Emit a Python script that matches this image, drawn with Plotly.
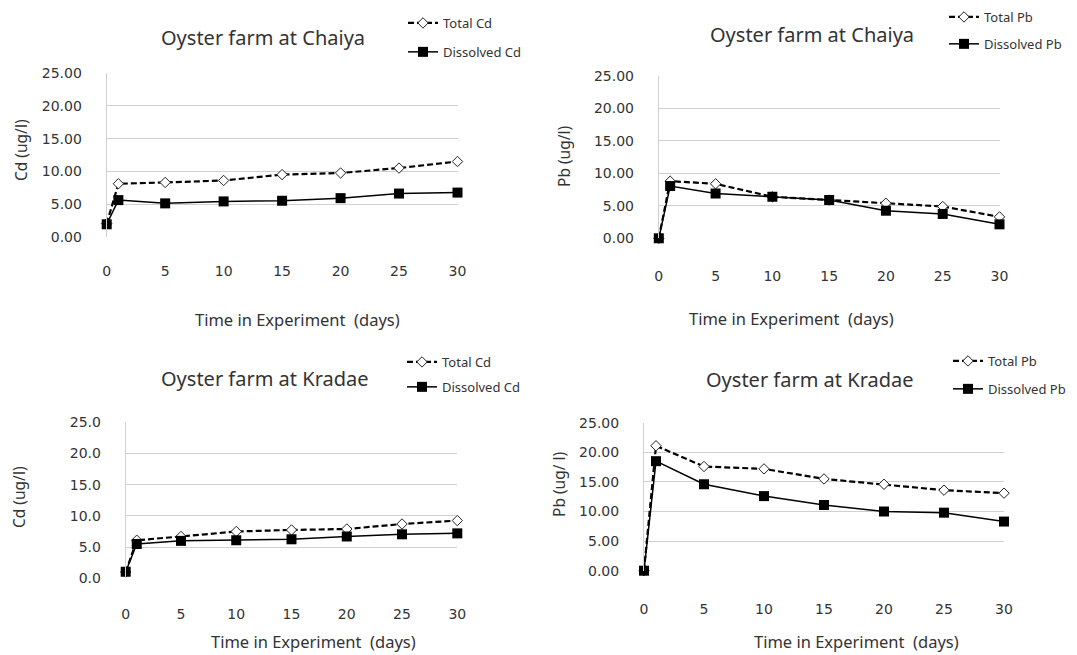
import plotly.graph_objects as go

W, H = 1077, 655

days = [0, 1, 5, 10, 15, 20, 25, 30]
x_ticks = [0, 5, 10, 15, 20, 25, 30]

chaiya_total_cd = [2.0, 8.1, 8.3, 8.6, 9.5, 9.75, 10.5, 11.5]
chaiya_diss_cd = [1.9, 5.6, 5.1, 5.4, 5.5, 5.9, 6.6, 6.75]

chaiya_total_pb = [0.0, 8.8, 8.4, 6.4, 5.9, 5.4, 4.9, 3.3]
chaiya_diss_pb = [0.0, 8.05, 6.9, 6.4, 5.9, 4.25, 3.75, 2.15]

kradae_total_cd = [1.0, 6.1, 6.7, 7.5, 7.75, 7.9, 8.7, 9.25]
kradae_diss_cd = [1.05, 5.5, 6.0, 6.1, 6.25, 6.7, 7.05, 7.2]

kradae_total_pb = [0.0, 21.1, 17.6, 17.2, 15.5, 14.6, 13.6, 13.1]
kradae_diss_pb = [0.0, 18.5, 14.6, 12.6, 11.1, 10.0, 9.8, 8.3]

FONT = "Noto Sans"
TICKFONT = "DejaVu Sans"
TXT = "#333333"
GRID = "#d0d0d0"


def px(x, y):
    return x / W, 1 - y / H


panels = [
    dict(total=chaiya_total_cd, diss=chaiya_diss_cd, metal="Cd", title="Oyster farm at Chaiya",
         ytitle="Cd (ug/l)", fmt=".2f", box=(106.7, 73.3, 457.5, 236.7),
         title_pos=(263, 38), ytitle_pos=(21, 150), xtitle_pos=(297, 320),
         leg=(403, 8), gap=9, standoff=24),
    dict(total=chaiya_total_pb, diss=chaiya_diss_pb, metal="Pb", title="Oyster farm at Chaiya",
         ytitle="Pb (ug/l)", fmt=".2f", box=(658.8, 76, 999.5, 238.3),
         title_pos=(812, 35), ytitle_pos=(564, 157), xtitle_pos=(791, 318),
         leg=(944, 2), gap=7, standoff=28),
    dict(total=kradae_total_cd, diss=kradae_diss_cd, metal="Cd", title="Oyster farm at Kradae",
         ytitle="Cd (ug/l)", fmt=".1f", box=(125.7, 422.3, 457.3, 578.3),
         title_pos=(265, 378), ytitle_pos=(19, 497), xtitle_pos=(313, None),
         leg=(402, 347), gap=5, standoff=26),
    dict(total=kradae_total_pb, diss=kradae_diss_pb, metal="Pb", title="Oyster farm at Kradae",
         ytitle="Pb (ug/ l)", fmt=".2f", box=(644, 422.7, 1004, 570.7),
         title_pos=(810, 379), ytitle_pos=(559, 485), xtitle_pos=(856, None),
         leg=(948, 346), gap=8, standoff=28),
]

fig = go.Figure()
annotations = []
layout = dict(
    width=W, height=H, margin=dict(l=0, r=0, t=0, b=0, autoexpand=False),
    paper_bgcolor="white", plot_bgcolor="white",
    font=dict(family=FONT, color=TXT, size=13),
)

for i, p in enumerate(panels, start=1):
    sfx = "" if i == 1 else str(i)
    xa, ya = "x" + sfx, "y" + sfx
    leg = "legend" + sfx
    x0, y0, x1, y1 = p["box"]
    fig.add_trace(go.Scatter(
        x=days, y=p["total"], mode="lines+markers", name="Total " + p["metal"],
        xaxis=xa, yaxis=ya, legend=leg, legendgroup="t%d" % i, cliponaxis=False,
        line=dict(color="black", width=2.2, dash="6px,3px"),
        marker=dict(symbol="diamond", size=8, color="white", line=dict(color="#222", width=1)),
    ))
    fig.add_trace(go.Scatter(
        x=days, y=p["diss"], mode="lines+markers", name="Dissolved " + p["metal"],
        xaxis=xa, yaxis=ya, legend=leg, legendgroup="d%d" % i, cliponaxis=False,
        line=dict(color="black", width=1.5),
        marker=dict(symbol="square", size=10, color="black"),
    ))
    layout["xaxis" + sfx] = dict(
        domain=[x0 / W, x1 / W], anchor=ya, range=[0, 30],
        tickvals=x_ticks, showgrid=False, zeroline=False, showline=False,
        ticklabelstandoff=p["standoff"], tickfont=dict(family=TICKFONT, size=14, color=TXT),
    )
    layout["yaxis" + sfx] = dict(
        domain=[1 - y1 / H, 1 - y0 / H], anchor=xa, range=[0, 25], dtick=5,
        tickformat=p["fmt"], showgrid=True, gridcolor=GRID, gridwidth=1,
        zeroline=False, showline=True, linecolor=GRID, linewidth=1,
        ticklabelstandoff=21, tickfont=dict(family=TICKFONT, size=14, color=TXT),
    )
    lx, ly = px(*p["leg"])
    layout[leg] = dict(
        x=lx, y=ly, xanchor="left", yanchor="top", bgcolor="rgba(0,0,0,0)",
        font=dict(size=13, color=TXT), tracegroupgap=p["gap"], traceorder="grouped",
        itemwidth=30,
    )
    tx, ty = px(*p["title_pos"])
    annotations.append(dict(text=p["title"], x=tx, y=ty, xref="paper", yref="paper",
                            showarrow=False, font=dict(size=20, color=TXT),
                            xanchor="center", yanchor="middle"))
    yx, yy = px(*p["ytitle_pos"])
    annotations.append(dict(text=p["ytitle"], x=yx, y=yy, xref="paper", yref="paper",
                            showarrow=False, textangle=-90, font=dict(size=15.5, color=TXT),
                            xanchor="center", yanchor="middle"))
    xt, yt = p["xtitle_pos"]
    if yt is None:
        xx = xt / W
        annotations.append(dict(text="Time in Experiment  (days)", x=xx, y=0, xref="paper",
                                yref="paper", showarrow=False, font=dict(size=16.5, color=TXT),
                                xanchor="center", yanchor="bottom"))
    else:
        xx, xy = px(xt, yt)
        annotations.append(dict(text="Time in Experiment  (days)", x=xx, y=xy, xref="paper",
                                yref="paper", showarrow=False, font=dict(size=16.5, color=TXT),
                                xanchor="center", yanchor="middle"))

layout["annotations"] = annotations
fig.update_layout(**layout)
fig.write_html("out.html")
